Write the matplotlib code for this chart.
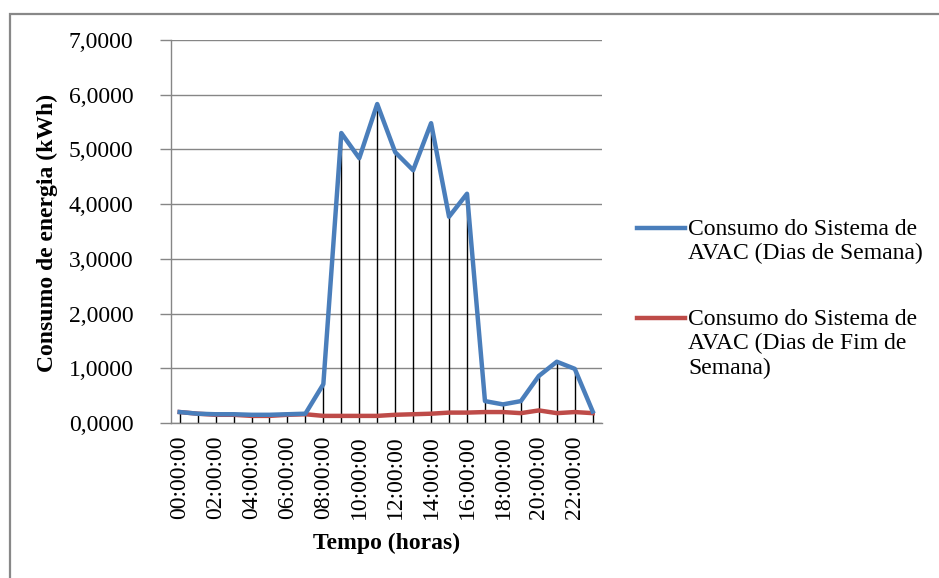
import matplotlib
matplotlib.use("Agg")
import matplotlib.pyplot as plt
from matplotlib.lines import Line2D
from matplotlib.patches import Rectangle
from matplotlib.ticker import FuncFormatter
import numpy as np

hours = ["%02d:00:00" % h for h in range(24)]
semana = [0.20, 0.17, 0.16, 0.16, 0.15, 0.15, 0.16, 0.17, 0.71, 5.30, 4.84, 5.83,
          4.95, 4.62, 5.48, 3.77, 4.19, 0.40, 0.34, 0.40, 0.86, 1.12, 0.99, 0.21]
fim_semana = [0.20, 0.17, 0.15, 0.15, 0.13, 0.13, 0.15, 0.16, 0.13, 0.13, 0.13, 0.13,
              0.15, 0.16, 0.17, 0.19, 0.19, 0.20, 0.20, 0.18, 0.23, 0.18, 0.20, 0.18]
labels = ["Consumo do Sistema de\nAVAC (Dias de Semana)",
          "Consumo do Sistema de\nAVAC (Dias de Fim de\nSemana)"]
y_ticks = [0, 1, 2, 3, 4, 5, 6, 7]

W, H = 939, 578
FS = 17
plt.rcParams['font.family'] = ['Liberation Serif', 'DejaVu Serif']
fig = plt.figure(figsize=(W / 100, H / 100), dpi=100)

def fx(px):
    return px / W

def fy(py):
    return 1 - py / H

ax = fig.add_axes([fx(170.7), fy(423), fx(601.7) - fx(170.7), fy(40) - fy(423)])

x = np.arange(len(hours))
blue = "#4A7EBB"
red = "#BE4B48"
grid_c = "#868686"

top = np.maximum(semana, fim_semana)
ax.vlines(x, 0, top, colors="black", linewidth=1.0, zorder=2)
ax.plot(x, fim_semana, color=red, linewidth=3.2, solid_joinstyle="round", zorder=3)
ax.plot(x, semana, color=blue, linewidth=3.2, solid_joinstyle="round", zorder=4)

ax.set_xlim(-0.5, len(hours) - 0.5)
ax.set_ylim(0, 7)
ax.set_yticks(y_ticks)
ax.yaxis.set_major_formatter(FuncFormatter(lambda v, p: ("%.4f" % v).replace(".", ",")))
ax.grid(axis="y", color=grid_c, linewidth=1.0, zorder=0)
ax.set_axisbelow(True)

ax.set_xticks(x[::2])
ax.set_xticklabels(hours[::2], rotation=90, fontsize=FS)
ax.tick_params(axis="x", length=0, pad=9)
ax.tick_params(axis="y", length=8, color=grid_c, width=1.0, labelsize=FS, pad=18.7)

for s in ["top", "right"]:
    ax.spines[s].set_visible(False)
for s in ["left", "bottom"]:
    ax.spines[s].set_color(grid_c)
    ax.spines[s].set_linewidth(1.0)

fig.text(fx(47), (fy(95) + fy(370)) / 2, "Consumo de energia (kWh)", rotation=90,
         ha="center", va="center", fontsize=FS, fontweight="bold")
fig.text(fx(387), fy(543), "Tempo (horas)", ha="center", va="center",
         fontsize=FS, fontweight="bold")

# legend
for col, ly, lab in [(blue, 228, labels[0]), (red, 318, labels[1])]:
    fig.add_artist(Line2D([fx(637), fx(685)], [fy(ly), fy(ly)], color=col,
                          linewidth=3.2, transform=fig.transFigure))
    fig.text(fx(688), fy(ly - 9), lab, ha="left", va="top", fontsize=FS,
             linespacing=1.2)

# outer border
fig.add_artist(Rectangle((fx(10), fy(600)), fx(1000), fy(14) - fy(600),
                         transform=fig.transFigure, fill=False,
                         edgecolor="#888888", linewidth=1.6))

fig.savefig("out.png", dpi=100)
